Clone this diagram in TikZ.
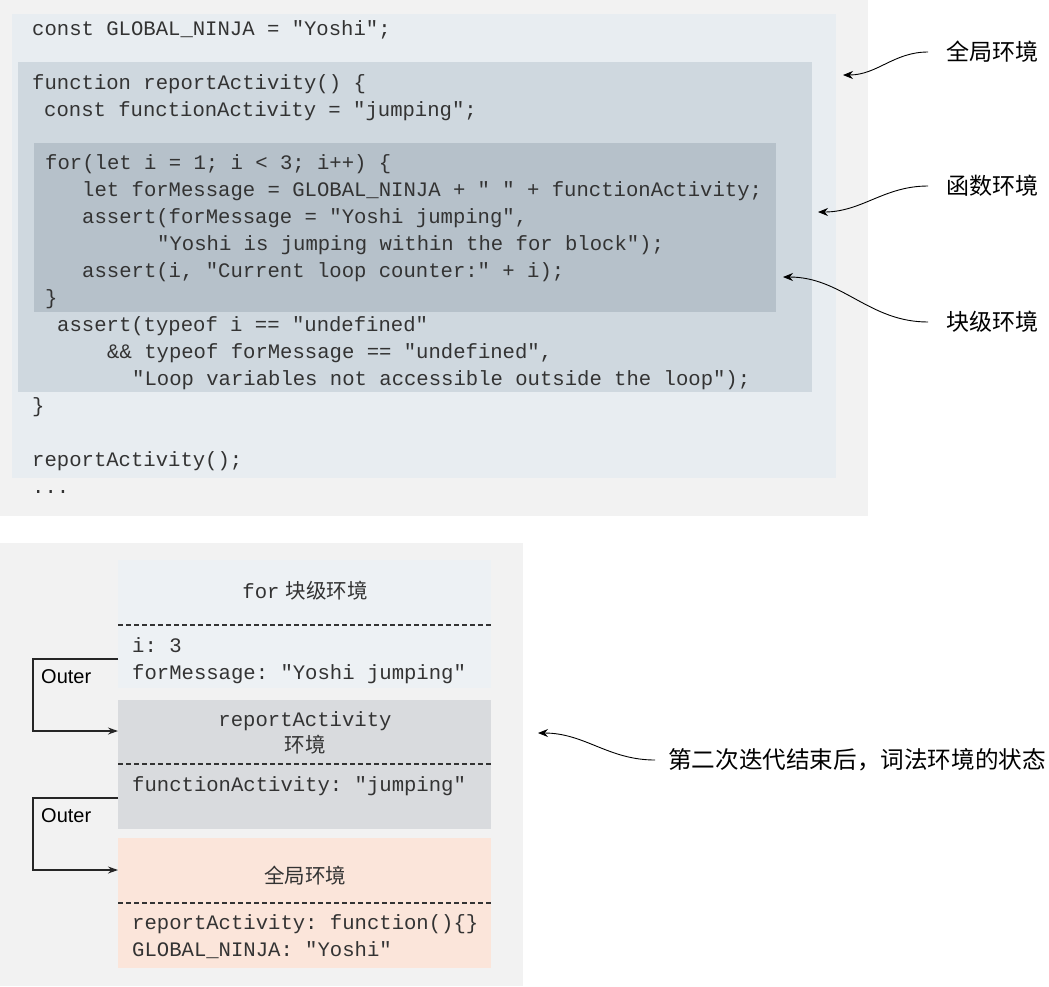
\documentclass[tikz,border=0pt]{standalone}
\usepackage{fontspec}
\setmainfont{Liberation Sans}
\setmonofont{Liberation Mono}
\newfontfamily\cjk{Noto Sans CJK SC}
\usetikzlibrary{arrows.meta}
\definecolor{bgg}{HTML}{F2F2F2}
\definecolor{globc}{HTML}{E8EDF1}
\definecolor{funcc}{HTML}{CFD8DF}
\definecolor{blockc}{HTML}{B6C1CA}
\definecolor{forc}{HTML}{EDF1F4}
\definecolor{rac}{HTML}{D9DBDE}
\definecolor{gc}{HTML}{FBE5DA}
\definecolor{txt}{HTML}{333333}
\newcommand\codefnt{\ttfamily\fontsize{20.6}{27}\selectfont}
\begin{document}
\begin{tikzpicture}[x=1pt,y=-1pt,
  box/.style={anchor=north west, inner sep=0, outer sep=0, draw=none},
  code/.style={anchor=base west, inner sep=0, font=\codefnt, text=txt},
  ctr/.style={anchor=base, inner sep=0, font=\codefnt, text=txt},
  lbl/.style={anchor=west, inner xsep=18pt, inner ysep=0, font=\cjk\fontsize{23}{27}\selectfont, text=black},
  arr/.style={-{Stealth[length=10pt,width=8pt]}, line width=0.9pt, black},
  conn/.style={-{Stealth[length=10pt,width=7pt]}, line width=1.3pt, black!85},
  sep/.style={dash pattern=on 5pt off 3pt, line width=1.4pt, black!80},
  outer/.style={anchor=west, inner sep=0, font=\fontsize{20}{24}\selectfont, text=black}]
\useasboundingbox (0,0) rectangle (1049,986);
% ---------- top panel ----------
\node[box, fill=bgg, minimum width=868pt, minimum height=516pt] (bg1) at (0,0) {};
\node[box, fill=globc, minimum width=824pt, minimum height=464pt] (glob) at (12,14) {};
\node[box, fill=funcc, minimum width=794pt, minimum height=330pt] (func) at (18,62) {};
\node[box, fill=blockc, minimum width=742pt, minimum height=169pt] (blk) at (34,143) {};

\node[code] (c1) at (32,35) {const GLOBAL\_NINJA = "Yoshi";};
\node[code] (c2) at (32,89) {function reportActivity() \{};
\node[code] (c3) at (44,116) {const functionActivity = "jumping";};
\node[code] (c4) at (45,169) {for(let i = 1; i < 3; i++) \{};
\node[code] (c5) at (82,196) {let forMessage = GLOBAL\_NINJA + " " + functionActivity;};
\node[code] (c6) at (82,223) {assert(forMessage = "Yoshi jumping",};
\node[code] (c7) at (157,250) {"Yoshi is jumping within the for block");};
\node[code] (c8) at (82,277) {assert(i, "Current loop counter:" + i);};
\node[code] (c9) at (45,304) {\}};
\node[code] (c10) at (57,331) {assert(typeof i == "undefined"};
\node[code] (c11) at (107,358) {\&\& typeof forMessage == "undefined",};
\node[code] (c12) at (132,385) {"Loop variables not accessible outside the loop");};
\node[code] (c13) at (32,412) {\}};
\node[code] (c14) at (32,466) {reportActivity();};
\node[code] (c15) at (32,493) {...};

\node[lbl] (l1) at (928,52) {全局环境};
\node[lbl] (l2) at (928,186) {函数环境};
\node[lbl] (l3) at (928,322) {块级环境};
\coordinate (t1) at (843,75);
\coordinate (t2) at (818,212);
\coordinate (t3) at (783,277);
\draw[arr] (l1.west) to[out=180,in=0] (t1);
\draw[arr] (l2.west) to[out=180,in=0] (t2);
\draw[arr] (l3.west) to[out=180,in=0] (t3);

% ---------- bottom panel ----------
\node[box, fill=bgg, minimum width=523pt, minimum height=443pt] (bg2) at (0,543) {};
\node[box, fill=forc, minimum width=373pt, minimum height=128pt] (forbox) at (118,560) {};
\node[box, fill=rac, minimum width=373pt, minimum height=129pt] (rabox) at (118,700) {};
\node[box, fill=gc, minimum width=373pt, minimum height=130pt] (gbox) at (118,838) {};

\draw[sep] (forbox.west |- 0,625) -- (forbox.east |- 0,625);
\draw[sep] (rabox.west |- 0,764) -- (rabox.east |- 0,764);
\draw[sep] (gbox.west |- 0,903) -- (gbox.east |- 0,903);

\node[ctr] (fort) at (305,598) {for\hspace{6pt}{\cjk\fontsize{20.5}{24}\selectfont 块级环境}};
\node[code] (fi) at (132,652) {i: 3};
\node[code] (fm) at (132,679) {forMessage: "Yoshi jumping"};
\node[ctr] (rat) at (305,726) {reportActivity};
\node[ctr] (rat2) at (305,752) {{\cjk\fontsize{20.5}{24}\selectfont 环境}};
\node[code] (rf) at (132,791) {functionActivity: "jumping"};
\node[ctr] (gt) at (305,883) {{\cjk\fontsize{20.5}{24}\selectfont 全局环境}};
\node[code] (gr) at (132,929) {reportActivity: function()\{\}};
\node[code] (gn) at (132,956) {GLOBAL\_NINJA: "Yoshi"};

\coordinate (o1s) at (118,659);
\coordinate (o1e) at (118,731);
\coordinate (o2s) at (118,798);
\coordinate (o2e) at (118,870);
\draw[conn] (o1s) -- ++(-85,0) |- (o1e);
\draw[conn] (o2s) -- ++(-85,0) |- (o2e);
\node[outer] (out1) at (41,677) {Outer};
\node[outer] (out2) at (41,816) {Outer};

\node[lbl, inner xsep=13pt, font=\cjk\fontsize{23.6}{28}\selectfont] (l4) at (655,760) {第二次迭代结束后，词法环境的状态};
\coordinate (t4) at (538,733);
\draw[arr] (l4.west) to[out=180,in=0] (t4);
\end{tikzpicture}
\end{document}
